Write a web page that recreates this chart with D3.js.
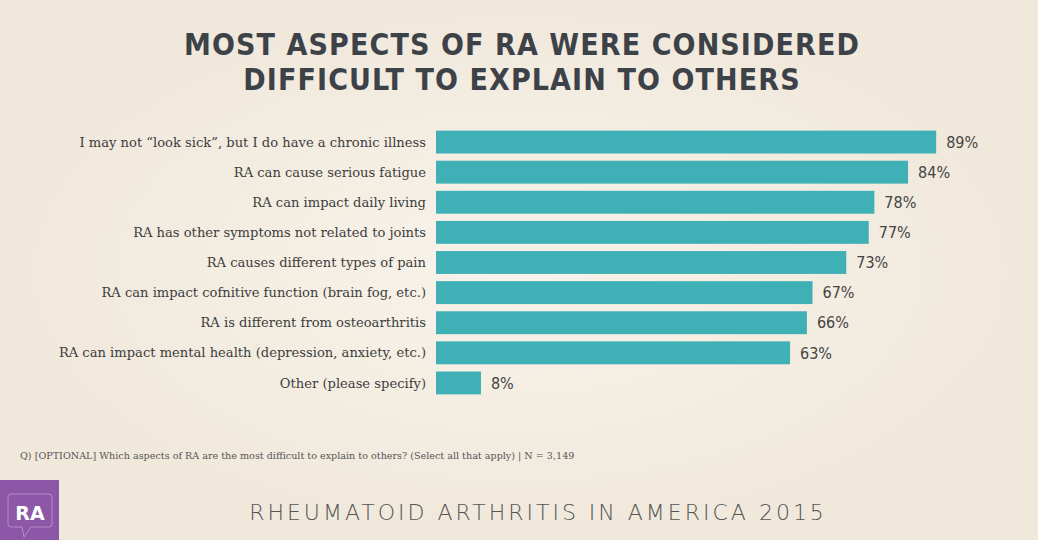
<!DOCTYPE html>
<html>
<head>
<meta charset="utf-8">
<script src="https://cdn.jsdelivr.net/npm/d3@7"></script>
<style>
  body { margin: 0; background: #f3ece0; }
  svg { display: block; }
</style>
</head>
<body>
<div id="chart"></div>
<script>
var categories = [
  "I may not \u201clook sick\u201d, but I do have a chronic illness",
  "RA can cause serious fatigue",
  "RA can impact daily living",
  "RA has other symptoms not related to joints",
  "RA causes different types of pain",
  "RA can impact cofnitive function (brain fog, etc.)",
  "RA is different from osteoarthritis",
  "RA can impact mental health (depression, anxiety, etc.)",
  "Other (please specify)"
];
var values = [89, 84, 78, 77, 73, 67, 66, 63, 8];

var width = 1038, height = 540;
var svg = d3.select("#chart").append("svg")
  .attr("width", width).attr("height", height);

// background with soft paper look
var defs = svg.append("defs");
var grad = defs.append("radialGradient").attr("id", "paper");
grad.append("stop").attr("offset", "0%").attr("stop-color", "#f8f3ea");
grad.append("stop").attr("offset", "100%").attr("stop-color", "#f0e8db");
svg.append("rect").attr("width", width).attr("height", height).attr("fill", "url(#paper)");

// title
var title = svg.append("text")
  .attr("text-anchor", "middle")
  .attr("font-family", "'DejaVu Sans Condensed', 'DejaVu Sans'")
  .attr("font-weight", "bold")
  .attr("font-size", 30)
  .attr("letter-spacing", 1.1)
  .attr("fill", "#3d4148");
title.append("tspan").attr("x", 522).attr("y", 55).text("MOST ASPECTS OF RA WERE CONSIDERED");
title.append("tspan").attr("x", 522).attr("y", 90).text("DIFFICULT TO EXPLAIN TO OTHERS");

var x = d3.scaleLinear().domain([0, 100]).range([436, 998]);
var y = d3.scaleBand().domain(categories).range([127, 398]).paddingInner(0.24).paddingOuter(0.12);

svg.selectAll(".bar").data(values).enter().append("rect")
  .attr("class", "bar")
  .attr("x", x(0))
  .attr("y", function(d, i) { return y(categories[i]); })
  .attr("width", function(d) { return x(d) - x(0); })
  .attr("height", y.bandwidth())
  .attr("fill", "#3fb0b6");

svg.selectAll(".cat").data(categories).enter().append("text")
  .attr("class", "cat")
  .attr("x", 426)
  .attr("y", function(d) { return y(d) + y.bandwidth() / 2; })
  .attr("dy", "0.35em")
  .attr("text-anchor", "end")
  .attr("font-family", "'DejaVu Serif', serif")
  .attr("font-size", 13.1)
  .attr("fill", "#3d3d3d")
  .text(function(d) { return d; });

svg.selectAll(".val").data(values).enter().append("text")
  .attr("class", "val")
  .attr("x", function(d) { return x(d) + 10; })
  .attr("y", function(d, i) { return y(categories[i]) + y.bandwidth() / 2; })
  .attr("dy", "0.36em")
  .attr("font-family", "'DejaVu Sans Condensed', 'DejaVu Sans'")
  .attr("font-size", 16)
  .attr("fill", "#444")
  .text(function(d) { return d + "%"; });

svg.append("text")
  .attr("x", 20).attr("y", 459)
  .attr("font-family", "'DejaVu Serif', serif")
  .attr("font-size", 9.6)
  .attr("fill", "#555")
  .text("Q) [OPTIONAL] Which aspects of RA are the most difficult to explain to others? (Select all that apply) | N = 3,149");

svg.append("text")
  .attr("x", 538).attr("y", 520)
  .attr("text-anchor", "middle")
  .attr("font-family", "'DejaVu Sans', sans-serif")
  .attr("font-weight", 300)
  .attr("font-size", 22)
  .attr("letter-spacing", 3)
  .attr("fill", "#555")
  .text("RHEUMATOID ARTHRITIS IN AMERICA 2015");

// RA logo
var logo = svg.append("g").attr("transform", "translate(0,480)");
logo.append("rect").attr("width", 59).attr("height", 60).attr("fill", "#8d57a8");
logo.append("path")
  .attr("d", "M11,14 Q8,14 8,17 L8,44 Q8,47 11,47 L22,47 L24,57 L31,47 L49,47 Q52,47 52,44 L52,17 Q52,14 49,14 Z")
  .attr("fill", "none").attr("stroke", "#b58dc8").attr("stroke-width", 1);
logo.append("text")
  .attr("x", 30).attr("y", 40)
  .attr("text-anchor", "middle")
  .attr("font-family", "'DejaVu Sans', sans-serif")
  .attr("font-weight", "bold")
  .attr("font-size", 19)
  .attr("fill", "#fff")
  .text("RA");
</script>
</body>
</html>
